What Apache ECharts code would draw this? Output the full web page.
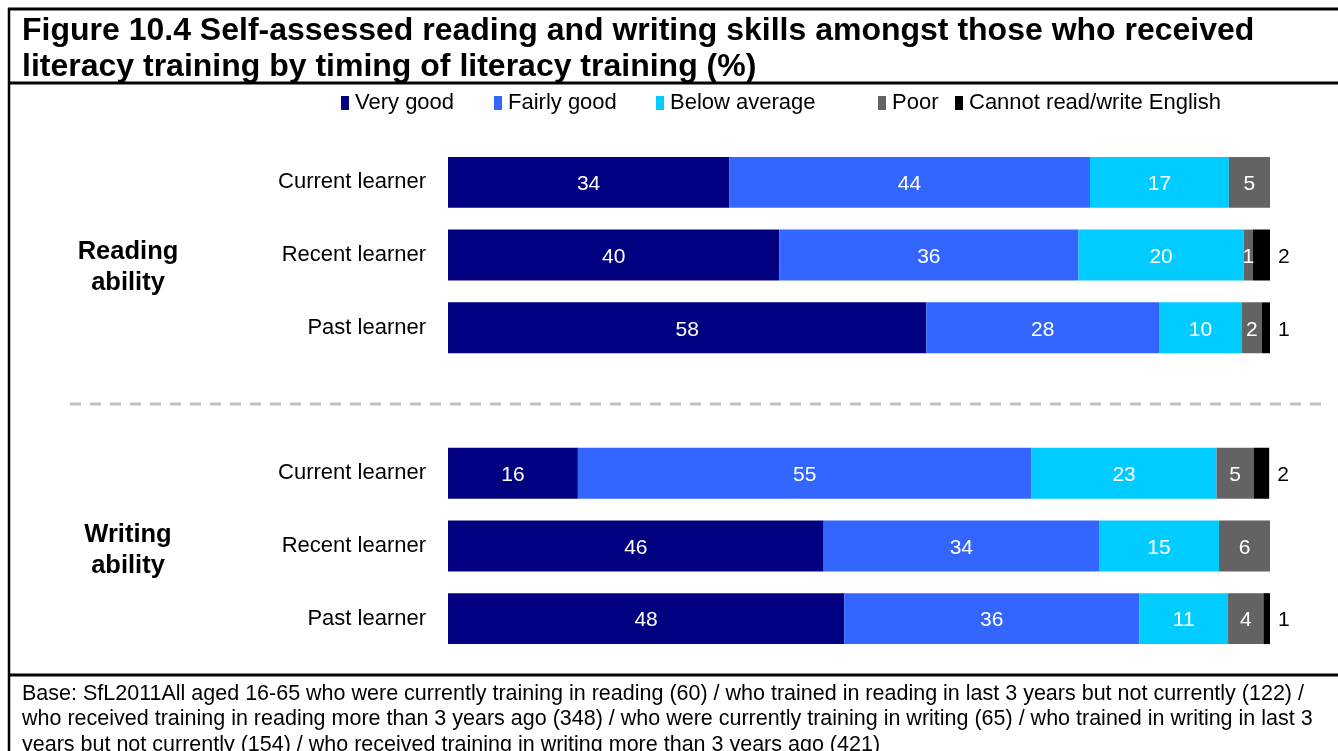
<!DOCTYPE html>
<html>
<head>
<meta charset="utf-8">
<script src="https://cdn.jsdelivr.net/npm/echarts@6/dist/echarts.min.js"></script>
<style>
html,body{margin:0;padding:0;background:#fff;}
#main{width:1338px;height:751px;}
</style>
</head>
<body>
<div id="main"></div>
<script>
const categories = ['Current learner', 'Recent learner', 'Past learner', '', 'Current learner', 'Recent learner', 'Past learner'];
const seriesNames = ['Very good', 'Fairly good', 'Below average', 'Poor', 'Cannot read/write English'];
const veryGood     = [34.2, 40.3, 58.2, '-', 15.8, 45.7, 48.2];
const fairlyGood   = [43.9, 36.4, 28.3, '-', 55.2, 33.5, 35.9];
const belowAverage = [16.9, 20.1, 10.1, '-', 22.5, 14.6, 10.8];
const poor         = [5.0, 1.1, 2.4, '-', 4.5, 6.3, 4.3];
const cannotRead   = [0, 2.1, 1.0, '-', 1.9, 0, 0.8];
const groupLabels = ['Reading\nability', 'Writing\nability'];
const titleText = 'Figure 10.4 Self-assessed reading and writing skills amongst those who received\nliteracy training by timing of literacy training (%)';
const footText = 'Base: SfL2011All aged 16-65 who were currently training in reading (60) / who trained in reading in last 3 years but not currently (122) /\nwho received training in reading more than 3 years ago (348) / who were currently training in writing (65) / who trained in writing in last 3\nyears but not currently (154) / who received training in writing more than 3 years ago (421)';

const colors = ['#000080', '#3366FF', '#00CCFF', '#636363', '#000000'];
const seriesData = [veryGood, fairlyGood, belowAverage, poor, cannotRead];
const FONT = 'Liberation Sans, Arial, sans-serif';

const chart = echarts.init(document.getElementById('main'));

const legendX = [341, 494, 656, 878, 955];
const legends = seriesNames.map((n, i) => ({
  data: [n], left: legendX[i], top: 92, padding: 0,
  icon: 'rect', itemWidth: 8, itemHeight: 14,
  textStyle: {fontFamily: FONT, fontSize: 22, color: '#000', padding: [0, 0, 0, 1]},
  selectedMode: false
}));

const series = seriesNames.map((n, i) => ({
  name: n, type: 'bar', stack: 'total', barWidth: '70%',
  data: seriesData[i],
  itemStyle: {color: colors[i]},
  label: {
    show: true,
    position: i === 4 ? 'right' : 'inside',
    distance: 8,
    color: i === 4 ? '#000' : '#fff',
    fontFamily: FONT, fontSize: 21,
    offset: [0, 2],
    formatter: p => (p.value === '-' || !p.value) ? '' : String(Math.round(p.value))
  },
  emphasis: {disabled: true},
  animation: false
}));

chart.setOption({
  animation: false,
  title: {
    text: titleText, left: 22, top: 13, padding: 0,
    textStyle: {fontFamily: FONT, fontWeight: 'bold', fontSize: 32, lineHeight: 36, color: '#000'}
  },
  legend: legends,
  grid: {left: 448, right: 68, top: 146, height: 509, containLabel: false},
  xAxis: {type: 'value', min: 0, max: 100, show: false},
  yAxis: {
    type: 'category', data: categories, inverse: true,
    axisLine: {show: false}, axisTick: {show: false}, splitLine: {show: false},
    axisLabel: {color: '#000', fontFamily: FONT, fontSize: 22, margin: 22, padding: [4, 0, 0, 0]}
  },
  series: series,
  graphic: [
    {type: 'line', shape: {x1: 8, y1: 9, x2: 1338, y2: 9}, style: {stroke: '#000', lineWidth: 3}},
    {type: 'line', shape: {x1: 9, y1: 8, x2: 9, y2: 751}, style: {stroke: '#000', lineWidth: 2.5}},
    {type: 'line', shape: {x1: 9, y1: 83, x2: 1338, y2: 83}, style: {stroke: '#000', lineWidth: 3}},
    {type: 'line', shape: {x1: 9, y1: 675, x2: 1338, y2: 675}, style: {stroke: '#000', lineWidth: 3}},
    {type: 'line', shape: {x1: 70, y1: 404, x2: 1322, y2: 404}, style: {stroke: '#c0c0c0', lineWidth: 3, lineDash: [11, 9]}},
    {type: 'text', x: 128, y: 267, style: {text: groupLabels[0], fontFamily: FONT, fontWeight: 'bold', fontSize: 25.5, lineHeight: 31, textAlign: 'center', textVerticalAlign: 'middle', fill: '#000'}},
    {type: 'text', x: 128, y: 550, style: {text: groupLabels[1], fontFamily: FONT, fontWeight: 'bold', fontSize: 25.5, lineHeight: 31, textAlign: 'center', textVerticalAlign: 'middle', fill: '#000'}},
    {type: 'text', x: 22, y: 681, style: {text: footText, fontFamily: FONT, fontSize: 21.5, lineHeight: 25.5, textAlign: 'left', textVerticalAlign: 'top', fill: '#000'}}
  ]
});
</script>
</body>
</html>
